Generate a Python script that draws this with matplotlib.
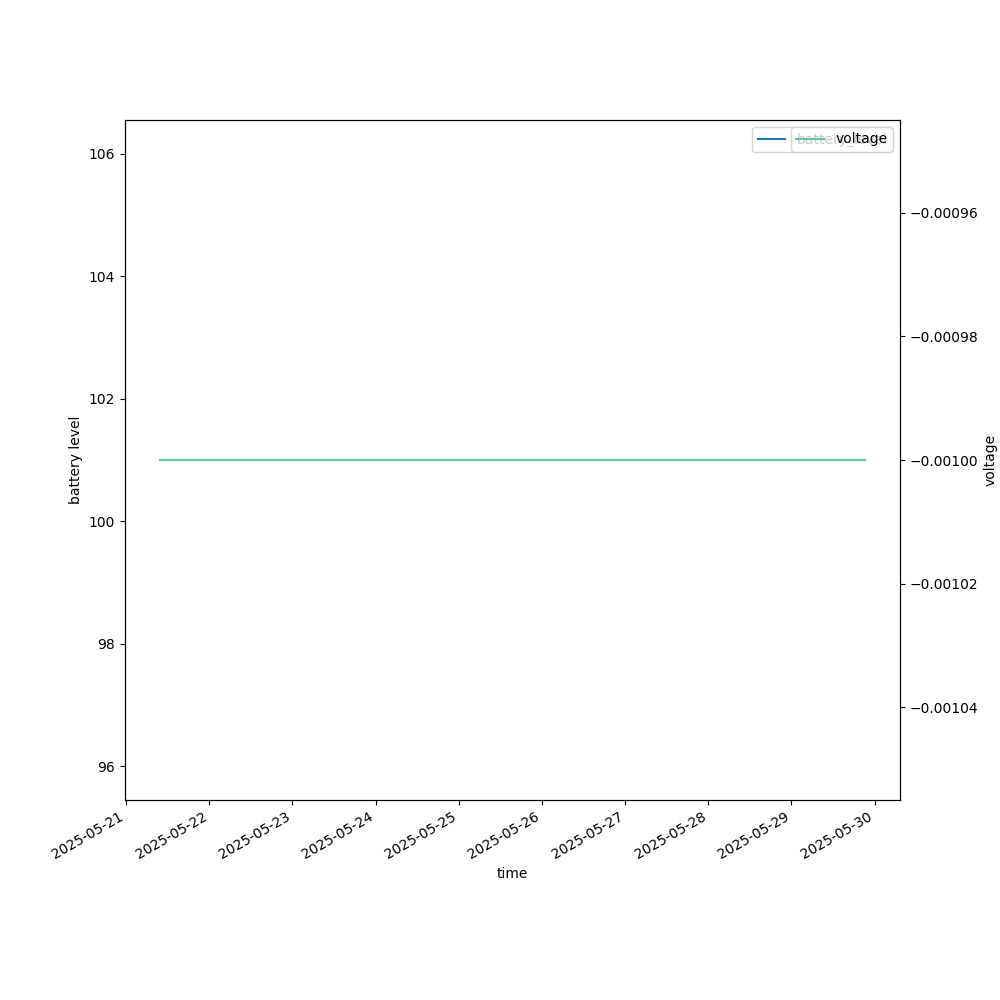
import pandas as pd
import matplotlib
matplotlib.use("Agg")
import matplotlib.pyplot as plt

# Readings (values are flat across the whole period)
times = pd.to_datetime([
    "2025-05-21 09:50", "2025-05-22 09:50", "2025-05-23 09:50",
    "2025-05-24 09:50", "2025-05-25 09:50", "2025-05-26 09:50",
    "2025-05-27 09:50", "2025-05-28 09:50", "2025-05-29 09:50",
    "2025-05-29 21:10",
])
battery_level = [101, 101, 101, 101, 101, 101, 101, 101, 101, 101]
voltage = [-0.001, -0.001, -0.001, -0.001, -0.001, -0.001, -0.001, -0.001, -0.001, -0.001]

fig, ax = plt.subplots(figsize=(10, 10), dpi=100)
ax.plot(times, battery_level, color="#1f77b4", label="battery_level")
ax.set_xlabel("time")
ax.set_ylabel("battery level")
ax.legend(loc="upper right")

ax2 = ax.twinx()
ax2.plot(times, voltage, color="#66c2a5", label="voltage")
ax2.set_ylabel("voltage")
ax2.legend(loc="upper right")

fig.autofmt_xdate()
plt.savefig("out.png", dpi=100)
